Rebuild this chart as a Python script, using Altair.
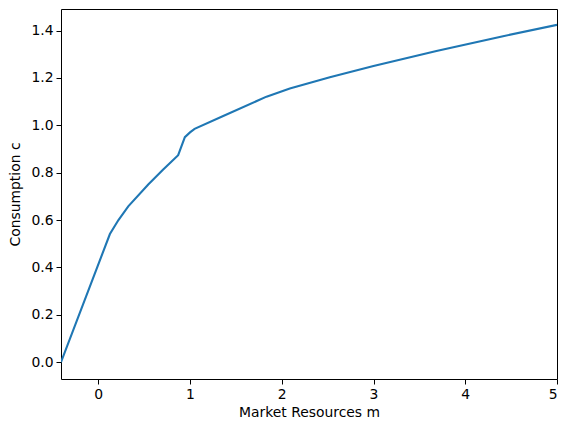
import pandas as pd
import altair as alt

m_values = [-0.406, 0.127, 0.22, 0.327, 0.545, 0.708, 0.871, 0.944, 1.0, 1.05,
            1.362, 1.834, 2.088, 2.524, 3.0, 3.686, 4.412, 5.0]
c_values = [0.0, 0.541, 0.600, 0.658, 0.750, 0.813, 0.874, 0.950, 0.970, 0.985,
            1.039, 1.121, 1.155, 1.203, 1.250, 1.314, 1.376, 1.424]

x_ticks = [0, 1, 2, 3, 4, 5]
y_ticks = [0.0, 0.2, 0.4, 0.6, 0.8, 1.0, 1.2, 1.4]

df = pd.DataFrame({"m": m_values, "c": c_values})

chart = (
    alt.Chart(df)
    .mark_line(color="#1f77b4", strokeWidth=2.1, clip=True)
    .encode(
        x=alt.X("m:Q", title="Market Resources m",
                scale=alt.Scale(domain=[-0.406, 5.0], nice=False, zero=False),
                axis=alt.Axis(values=x_ticks, format="d", titlePadding=5)),
        y=alt.Y("c:Q", title="Consumption c",
                scale=alt.Scale(domain=[-0.071, 1.491], nice=False, zero=False),
                axis=alt.Axis(values=y_ticks, format=".1f", titlePadding=8)),
        order=alt.Order("m:Q"),
    )
    .properties(width=496, height=370, autosize="none",
                padding={"left": 53, "top": 1, "right": 4, "bottom": 40})
    .configure_view(stroke="black", strokeWidth=1)
    .configure_axis(grid=False, domain=False, tickColor="black", tickSize=5,
                    labelFont="DejaVu Sans", labelFontSize=13.9, labelColor="black",
                    labelPadding=3, titleFont="DejaVu Sans", titleFontSize=13.9,
                    titleFontWeight="normal", titleColor="black")
)

chart.save("out.html", embed_options={"renderer": "svg", "actions": False})
